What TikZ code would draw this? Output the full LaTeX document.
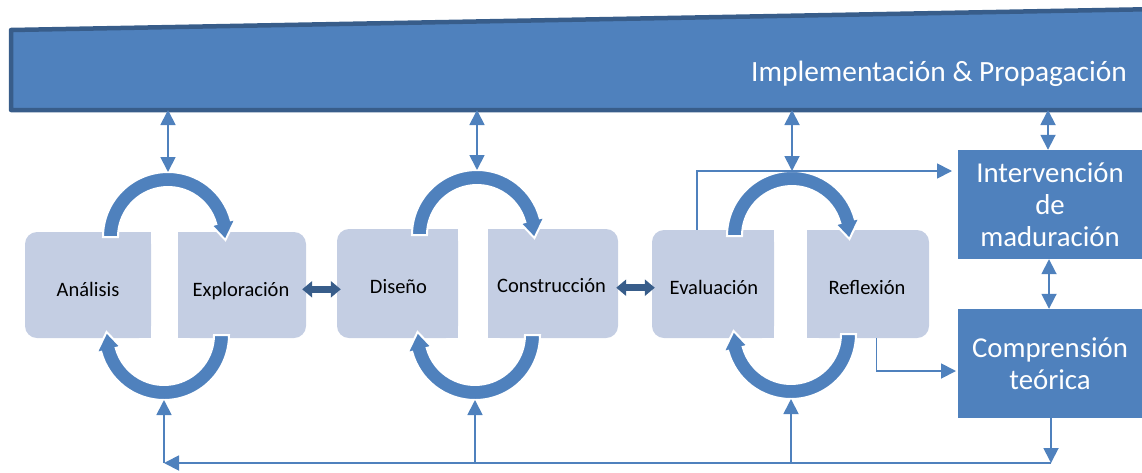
\documentclass[tikz,border=0pt]{standalone}
\usepackage{fontspec}
\setmainfont{Carlito}
\usetikzlibrary{arrows.meta,calc}
\definecolor{midblue}{RGB}{79,129,189}
\definecolor{darkblue}{RGB}{56,93,138}
\definecolor{boxfill}{RGB}{196,206,227}
\newcommand{\TopCyc}[2]{%
  \fill[midblue, draw=white, line width=2pt, line join=miter]
    (#1-65,#2) arc[start angle=180, end angle=345, radius=65]
    -- ($(#1,#2)+(-15:70)$) -- ($(#1,#2)+(3:57.5)$) -- ($(#1,#2)+(-15:45)$)
    -- ($(#1,#2)+(-15:50)$) arc[start angle=345, end angle=180, radius=50] -- cycle;}
\newcommand{\BotCyc}[2]{%
  \fill[midblue, draw=white, line width=2pt, line join=miter]
    (#1+65,#2) arc[start angle=0, end angle=165, radius=65]
    -- ($(#1,#2)+(165:70)$) -- ($(#1,#2)+(183:57.5)$) -- ($(#1,#2)+(165:45)$)
    -- ($(#1,#2)+(165:50)$) arc[start angle=165, end angle=0, radius=50] -- cycle;}
\begin{document}
\begin{tikzpicture}[x=1pt,y=-1pt,
  cbox/.style={fill=boxfill, rounded corners=12pt, inner sep=0pt},
  lbl/.style={font=\fontsize{20.5}{24}\selectfont, inner sep=0pt, anchor=base, text=black},
  rbox/.style={fill=midblue, inner sep=0pt, minimum width=184pt, minimum height=109pt,
    text=white, align=center, font=\fontsize{28.8}{32}\selectfont},
  conn/.style={draw=midblue, line width=1.8pt},
  tip/.tip={Triangle[length=15pt,width=15pt]},
  dbl/.style={draw=darkblue, line width=7pt, {Triangle[length=10pt,width=16pt]}-{Triangle[length=10pt,width=16pt]}}
]
\useasboundingbox (0,0) rectangle (1142,472);
% banner
\coordinate (bTL) at (11,30);
\coordinate (bTR) at (1160,9);
\coordinate (bBR) at (1160,110);
\coordinate (bBL) at (11,110);
\draw[fill=midblue, draw=darkblue, line width=4.5pt, line join=round] (bTL) -- (bTR) -- (bBR) -- (bBL) -- cycle;
\node[anchor=base west, inner sep=0pt, text=white, font=\fontsize{29.4}{32}\selectfont] (btext) at (751,81) {Implementación \& Propagación};
% boxes
\node[cbox, minimum width=126pt, minimum height=106pt] (ana) at (88,285) {};
\fill[boxfill] (ana.north) rectangle (ana.south east);
\node[cbox, minimum width=128pt, minimum height=106pt] (exp) at (242,285) {};
\fill[boxfill] (exp.north) rectangle (exp.south west);
\node[cbox, minimum width=121pt, minimum height=109pt] (dis) at (397.5,283.5) {};
\fill[boxfill] (dis.north) rectangle (dis.south east);
\node[cbox, minimum width=130pt, minimum height=109pt] (con) at (553,283.5) {};
\fill[boxfill] (con.north) rectangle (con.south west);
\node[cbox, minimum width=122pt, minimum height=108pt] (eva) at (713,284) {};
\fill[boxfill] (eva.north) rectangle (eva.south east);
\node[cbox, minimum width=122pt, minimum height=108pt] (ref) at (868,284) {};
\fill[boxfill] (ref.north) rectangle (ref.south west);
\node[lbl] (tana) at (88,296.7) {Análisis};
\node[lbl] (texp) at (241,296.7) {Exploración};
\node[lbl] (tdis) at (398.5,293) {Diseño};
\node[lbl] (tcon) at (551.5,292.7) {Construcción};
\node[lbl] (teva) at (714,294) {Evaluación};
\node[lbl] (tref) at (867,294) {Reflexión};
% right boxes
\node[rbox] (int) at (1050,204.5) {Intervención\\de\\maduración};
\node[rbox] (comp) at (1050,363.5) {Comprensión\\teórica};
% cycle arrows
\TopCyc{168}{237}
\BotCyc{164}{335}
\TopCyc{477}{235}
\BotCyc{475}{335}
\TopCyc{792}{236}
\BotCyc{791}{334}
% coordinates on arcs and banner
\coordinate (u1) at (168,110); \coordinate (a1) at (168,172);
\coordinate (u2) at (477,110); \coordinate (a2) at (477,170);
\coordinate (u3) at (792,110); \coordinate (a3) at (792,171);
\coordinate (u4) at (1048,110);
\coordinate (c1) at (164,400); \coordinate (c2) at (475,400); \coordinate (c3) at (791,399);
\coordinate (bR) at (1051,463); \coordinate (bL) at (164,463);
\coordinate (m2) at (475,463); \coordinate (m3) at (791,463);
\coordinate (evT) at (952,171);
\coordinate (rfT) at (956,371);
% connectors
\draw[conn, tip-tip] (u1) -- (a1);
\draw[conn, tip-tip] (u2) -- (a2);
\draw[conn, tip-tip] (u3) -- (a3);
\draw[conn, tip-tip] (u4) -- ([xshift=-2pt]int.north);
\draw[conn, tip-tip] ([xshift=-1pt]int.south) -- ([xshift=-1pt]comp.north);
\draw[conn, -tip] ([xshift=1pt]comp.south) -- (bR);
\draw[conn, -tip] (bR) -- (bL);
\draw[conn, -tip] (bL) -- (c1);
\draw[conn, -tip] (m2) -- (c2);
\draw[conn, -tip] (m3) -- (c3);
\draw[conn, -tip] ([xshift=-16pt]eva.north) |- (evT);
\draw[conn, -tip] ([xshift=8.5pt]ref.south) |- (rfT);
\draw[dbl] ([xshift=-4pt]exp.east |- 0,289.3) -- ([xshift=4pt]dis.west |- 0,289.3);
\draw[dbl] ([xshift=-2pt]con.east |- 0,287.7) -- ([xshift=3pt]eva.west |- 0,287.7);
\end{tikzpicture}
\end{document}
